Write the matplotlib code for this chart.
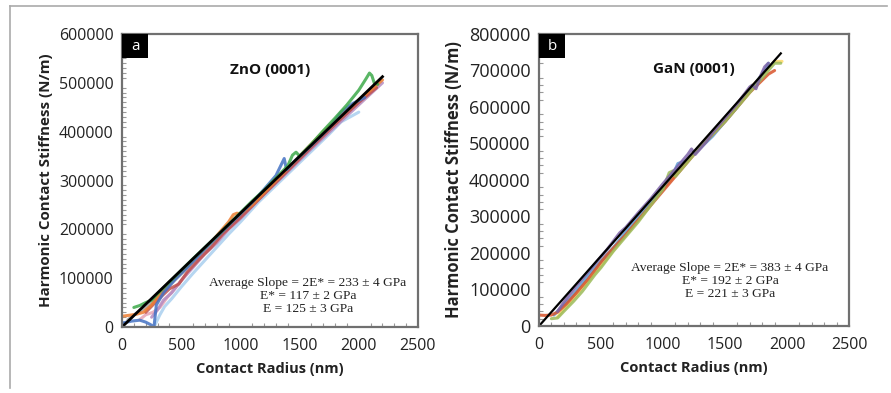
import matplotlib
matplotlib.use("Agg")
import matplotlib.pyplot as plt
from matplotlib.ticker import MultipleLocator
from matplotlib.lines import Line2D
from matplotlib.patches import Rectangle
import numpy as np

# ---------------- Data: panel a (ZnO) ----------------
zno_slope = 233  # N/m per nm
zno_fit_x = [0, 2200]

zno_blue_x = [0, 80, 150, 200, 240, 270, 290, 350, 450, 550, 700, 850, 950, 1100, 1200, 1300, 1340, 1370, 1390, 1450, 1600, 1750, 1850, 1950, 2050]
zno_blue_y = [8000, 12000, 14000, 10000, 5000, 0, 45000, 70000, 98000, 122000, 160000, 196000, 220000, 255000, 282000, 310000, 330000, 345000, 322000, 338000, 372000, 408000, 440000, 458000, 470000]

zno_green_x = [100, 150, 200, 250, 300, 400, 500, 600, 700, 800, 900, 1000, 1100, 1200, 1300, 1400, 1440, 1470, 1500, 1600, 1700, 1800, 1900, 2000, 2060, 2090, 2110, 2130, 2160]
zno_green_y = [40000, 44000, 50000, 55000, 68000, 92000, 116000, 140000, 163000, 186000, 210000, 234000, 258000, 280000, 305000, 330000, 352000, 358000, 350000, 375000, 402000, 428000, 455000, 485000, 508000, 520000, 515000, 500000, 497000]

zno_orange_x = [0, 60, 120, 180, 250, 320, 400, 500, 600, 700, 800, 900, 940, 970, 1000, 1100, 1300, 1500, 1700, 1900, 2100, 2200]
zno_orange_y = [22000, 24000, 26000, 30000, 45000, 68000, 92000, 112000, 138000, 160000, 187000, 215000, 230000, 233000, 232000, 250000, 300000, 350000, 400000, 445000, 485000, 506000]

zno_red_x = [200, 300, 400, 480, 550, 650, 750, 850, 1000, 1200, 1400, 1600, 1800, 2000, 2150]
zno_red_y = [30000, 55000, 78000, 88000, 112000, 138000, 162000, 190000, 224000, 272000, 320000, 368000, 415000, 460000, 490000]

zno_purple_x = [250, 300, 350, 420, 500, 600, 700, 800, 900, 1000, 1200, 1400, 1600, 1800, 2000, 2200]
zno_purple_y = [20000, 35000, 55000, 70000, 95000, 122000, 150000, 172000, 200000, 222000, 272000, 318000, 365000, 410000, 455000, 500000]

zno_cyan_x = [280, 320, 360, 420, 500, 600, 750, 900, 1000, 1150, 1300, 1450, 1600, 1750, 1850, 2000]
zno_cyan_y = [5000, 25000, 42000, 58000, 82000, 110000, 150000, 190000, 215000, 255000, 290000, 325000, 360000, 395000, 420000, 440000]

zno_gray_x = [50, 120, 200, 300, 400, 600, 800, 1000, 1200, 1400, 1600, 1800, 2000, 2180]
zno_gray_y = [15000, 28000, 40000, 62000, 85000, 132000, 180000, 228000, 275000, 322000, 370000, 415000, 460000, 505000]

zno_pink_x = [150, 200, 260, 320, 380, 450, 550]
zno_pink_y = [15000, 25000, 30000, 40000, 60000, 80000, 110000]

# ---------------- Data: panel b (GaN) ----------------
gan_slope = 383
gan_fit_x = [0, 1950]

gan_red_x = [0, 50, 100, 150, 220, 300, 400, 500, 550, 700, 900, 1100, 1300, 1500, 1700, 1850, 1900]
gan_red_y = [30000, 29000, 30000, 38000, 60000, 90000, 130000, 175000, 195000, 250000, 330000, 410000, 490000, 560000, 640000, 690000, 700000]

gan_purple_x = [150, 200, 300, 400, 450, 550, 650, 700, 800, 900, 1000, 1100, 1200, 1230, 1260, 1350, 1400, 1500, 1600, 1700, 1720, 1750, 1780, 1820, 1850]
gan_purple_y = [40000, 65000, 110000, 150000, 170000, 210000, 255000, 270000, 310000, 348000, 390000, 430000, 470000, 485000, 470000, 505000, 530000, 570000, 610000, 655000, 660000, 650000, 680000, 710000, 720000]

gan_lime_x = [100, 150, 200, 280, 350, 450, 500, 600, 700, 800, 900, 1000, 1050, 1080, 1100, 1200, 1300, 1400, 1500, 1600, 1700, 1800, 1900, 1950]
gan_lime_y = [20000, 22000, 40000, 68000, 95000, 140000, 160000, 205000, 245000, 285000, 330000, 375000, 420000, 425000, 410000, 450000, 490000, 525000, 560000, 600000, 640000, 680000, 720000, 720000]

gan_blue_x = [120, 250, 400, 600, 800, 1000, 1100, 1120, 1200, 1400, 1600, 1800, 1850]
gan_blue_y = [30000, 75000, 140000, 215000, 300000, 375000, 430000, 445000, 455000, 520000, 600000, 690000, 720000]

gan_yellow_x = [150, 300, 500, 700, 900, 1100, 1300, 1500, 1700, 1900, 1960]
gan_yellow_y = [25000, 85000, 165000, 250000, 335000, 415000, 495000, 570000, 650000, 725000, 725000]

# ---------------- Figure ----------------
fig = plt.figure(figsize=(8.91, 3.93), dpi=100)
W, H = 891, 393

def px_axes(x0, y0, x1, y1):
    return fig.add_axes([x0 / W, 1 - y1 / H, (x1 - x0) / W, (y1 - y0) / H])

ax1 = px_axes(122, 34, 418, 327)
ax2 = px_axes(539, 34, 849, 326)

sans = ["Open Sans", "DejaVu Sans"]
serif = ["Liberation Serif", "DejaVu Serif"]
tick_color = "#222222"
spine_color = "#707070"

def style(ax, ymax, ymajor, yminor, ytick_size, ylabel_size):
    ax.set_xlim(0, 2500)
    ax.set_ylim(0, ymax)
    ax.xaxis.set_major_locator(MultipleLocator(500))
    ax.xaxis.set_minor_locator(MultipleLocator(100))
    ax.yaxis.set_major_locator(MultipleLocator(ymajor))
    ax.yaxis.set_minor_locator(MultipleLocator(yminor))
    ax.tick_params(which="both", direction="in", color="#999999")
    ax.tick_params(which="minor", length=3, width=0.8)
    ax.tick_params(axis="x", which="major", length=0, pad=8)
    ax.tick_params(axis="y", which="major", length=0, pad=6)
    for lbl in ax.get_xticklabels():
        lbl.set_fontfamily(sans)
        lbl.set_fontsize(11.5)
        lbl.set_color(tick_color)
    for lbl in ax.get_yticklabels():
        lbl.set_fontfamily(sans)
        lbl.set_fontsize(ytick_size)
        lbl.set_color(tick_color)
    for s in ax.spines.values():
        s.set_color(spine_color)
        s.set_linewidth(1.6)
    ax.set_xlabel("Contact Radius (nm)", fontfamily=sans, fontweight="bold", fontsize=10.5, color="#222222", labelpad=6)
    ax.set_ylabel("Harmonic Contact Stiffness (N/m)", fontfamily=sans, fontweight="bold", fontsize=ylabel_size, color="#222222", labelpad=4)

# Panel a
series_a = [
    (zno_gray_x, zno_gray_y, "#A5A5A5"),
    (zno_cyan_x, zno_cyan_y, "#A9CFEF"),
    (zno_pink_x, zno_pink_y, "#E6A5B5"),
    (zno_purple_x, zno_purple_y, "#B58BC0"),
    (zno_red_x, zno_red_y, "#C0504D"),
    (zno_orange_x, zno_orange_y, "#ED7D31"),
    (zno_blue_x, zno_blue_y, "#4472C4"),
    (zno_green_x, zno_green_y, "#3DAA4A"),
]
for x, y, c in series_a:
    ax1.plot(x, y, color=c, lw=2.2, alpha=0.85, solid_capstyle="round")
fx = np.array(zno_fit_x)
ax1.plot(fx, zno_slope * fx, color="black", lw=2.0)
style(ax1, 600000, 100000, 10000, 11.5, 10.9)
ax1.text(1250, 527000, "ZnO (0001)", fontfamily=sans, fontweight="bold", fontsize=11, ha="center", va="center", color="#111111")
ax1.text(1571, 103000, "Average Slope = 2E* = 233 \u00b1 4 GPa\nE* = 117 \u00b1 2 GPa\nE = 125 \u00b1 3 GPa",
         fontfamily=serif, fontsize=9.7, ha="center", va="top", linespacing=1.15, color="#222222")

# Panel b
series_b = [
    (gan_yellow_x, gan_yellow_y, "#FFD966"),
    (gan_blue_x, gan_blue_y, "#5B9BD5"),
    (gan_red_x, gan_red_y, "#D9542B"),
    (gan_lime_x, gan_lime_y, "#9BBB59"),
    (gan_purple_x, gan_purple_y, "#7E64A8"),
]
for x, y, c in series_b:
    ax2.plot(x, y, color=c, lw=2.2, alpha=0.85, solid_capstyle="round")
gx = np.array(gan_fit_x)
ax2.plot(gx, gan_slope * gx, color="black", lw=1.6)
style(ax2, 800000, 100000, 20000, 13, 11.9)
ax2.text(1250, 705000, "GaN (0001)", fontfamily=sans, fontweight="bold", fontsize=11, ha="center", va="center", color="#111111")
ax2.text(1540, 176000, "Average Slope = 2E* = 383 \u00b1 4 GPa\nE* = 192 \u00b1 2 GPa\nE = 221 \u00b1 3 GPa",
         fontfamily=serif, fontsize=9.7, ha="center", va="top", linespacing=1.15, color="#222222")

# Panel letter boxes
for ax, letter, wpx, hpx, axw, axh in [(ax1, "a", 26, 24, 296, 293), (ax2, "b", 26, 24, 310, 292)]:
    w = wpx / axw
    h = hpx / axh
    ax.add_patch(Rectangle((0, 1 - h), w, h, transform=ax.transAxes, facecolor="black", edgecolor="none", zorder=5, clip_on=False))
    ax.text(w / 2, 1 - h / 2, letter, transform=ax.transAxes, color="white", fontfamily=sans, fontsize=11, ha="center", va="center", zorder=6)

# Outer frame lines
fig.add_artist(Line2D([10 / W, 887 / W], [1 - 6 / H, 1 - 6 / H], color="#AAAAAA", lw=1.2))
fig.add_artist(Line2D([10 / W, 10 / W], [1 - 6 / H, 1 - 388 / H], color="#AAAAAA", lw=1.2))

fig.savefig("out.png", dpi=100, facecolor="white")
